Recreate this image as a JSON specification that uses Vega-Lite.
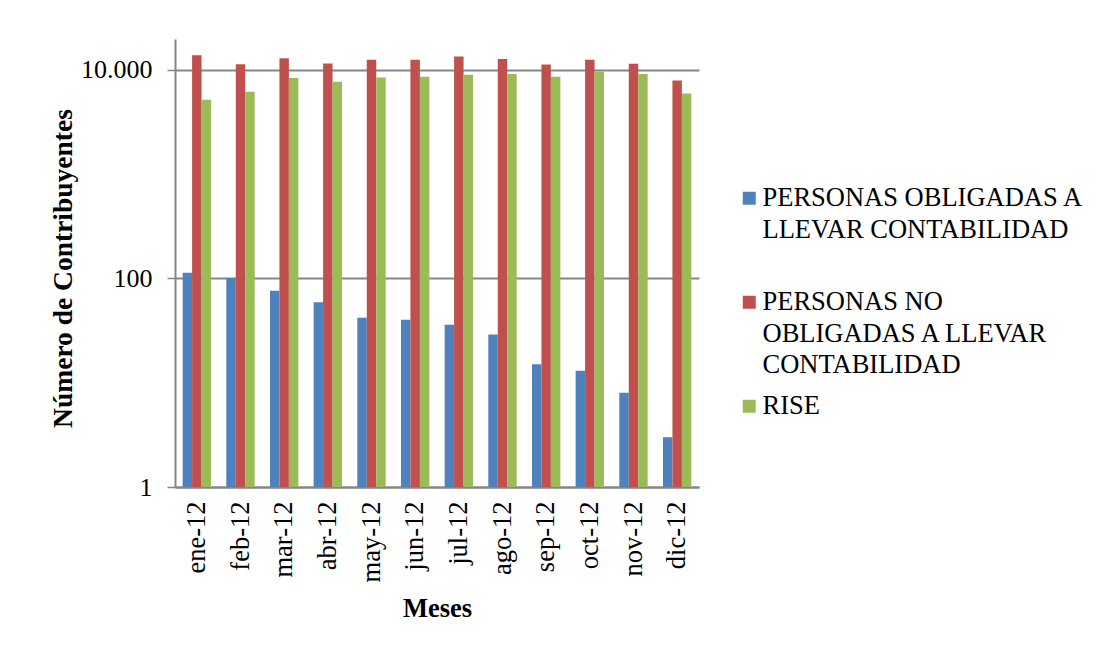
{
  "$schema": "https://vega.github.io/schema/vega-lite/v6.json",
  "width": 524,
  "height": 448,
  "autosize": {"type": "none"},
  "padding": {"left": 175, "top": 39, "right": 402, "bottom": 163},
  "background": "white",
  "config": {
    "view": {"stroke": null},
    "font": "Liberation Serif",
    "legend": {"labelFont": "Liberation Serif"}
  },
  "data": {
    "values": [
      {"mes": "ene-12", "serie": "PERSONAS OBLIGADAS A LLEVAR CONTABILIDAD", "valor": 113},
      {"mes": "feb-12", "serie": "PERSONAS OBLIGADAS A LLEVAR CONTABILIDAD", "valor": 101},
      {"mes": "mar-12", "serie": "PERSONAS OBLIGADAS A LLEVAR CONTABILIDAD", "valor": 76},
      {"mes": "abr-12", "serie": "PERSONAS OBLIGADAS A LLEVAR CONTABILIDAD", "valor": 59},
      {"mes": "may-12", "serie": "PERSONAS OBLIGADAS A LLEVAR CONTABILIDAD", "valor": 42},
      {"mes": "jun-12", "serie": "PERSONAS OBLIGADAS A LLEVAR CONTABILIDAD", "valor": 40},
      {"mes": "jul-12", "serie": "PERSONAS OBLIGADAS A LLEVAR CONTABILIDAD", "valor": 36},
      {"mes": "ago-12", "serie": "PERSONAS OBLIGADAS A LLEVAR CONTABILIDAD", "valor": 29},
      {"mes": "sep-12", "serie": "PERSONAS OBLIGADAS A LLEVAR CONTABILIDAD", "valor": 15},
      {"mes": "oct-12", "serie": "PERSONAS OBLIGADAS A LLEVAR CONTABILIDAD", "valor": 13},
      {"mes": "nov-12", "serie": "PERSONAS OBLIGADAS A LLEVAR CONTABILIDAD", "valor": 8},
      {"mes": "dic-12", "serie": "PERSONAS OBLIGADAS A LLEVAR CONTABILIDAD", "valor": 3},
      {"mes": "ene-12", "serie": "PERSONAS  NO OBLIGADAS A LLEVAR CONTABILIDAD", "valor": 13800},
      {"mes": "feb-12", "serie": "PERSONAS  NO OBLIGADAS A LLEVAR CONTABILIDAD", "valor": 11300},
      {"mes": "mar-12", "serie": "PERSONAS  NO OBLIGADAS A LLEVAR CONTABILIDAD", "valor": 12900},
      {"mes": "abr-12", "serie": "PERSONAS  NO OBLIGADAS A LLEVAR CONTABILIDAD", "valor": 11500},
      {"mes": "may-12", "serie": "PERSONAS  NO OBLIGADAS A LLEVAR CONTABILIDAD", "valor": 12470},
      {"mes": "jun-12", "serie": "PERSONAS  NO OBLIGADAS A LLEVAR CONTABILIDAD", "valor": 12470},
      {"mes": "jul-12", "serie": "PERSONAS  NO OBLIGADAS A LLEVAR CONTABILIDAD", "valor": 13400},
      {"mes": "ago-12", "serie": "PERSONAS  NO OBLIGADAS A LLEVAR CONTABILIDAD", "valor": 12640},
      {"mes": "sep-12", "serie": "PERSONAS  NO OBLIGADAS A LLEVAR CONTABILIDAD", "valor": 11240},
      {"mes": "oct-12", "serie": "PERSONAS  NO OBLIGADAS A LLEVAR CONTABILIDAD", "valor": 12470},
      {"mes": "nov-12", "serie": "PERSONAS  NO OBLIGADAS A LLEVAR CONTABILIDAD", "valor": 11420},
      {"mes": "dic-12", "serie": "PERSONAS  NO OBLIGADAS A LLEVAR CONTABILIDAD", "valor": 7890},
      {"mes": "ene-12", "serie": "RISE", "valor": 5150},
      {"mes": "feb-12", "serie": "RISE", "valor": 6150},
      {"mes": "mar-12", "serie": "RISE", "valor": 8310},
      {"mes": "abr-12", "serie": "RISE", "valor": 7670},
      {"mes": "may-12", "serie": "RISE", "valor": 8440},
      {"mes": "jun-12", "serie": "RISE", "valor": 8570},
      {"mes": "jul-12", "serie": "RISE", "valor": 8960},
      {"mes": "ago-12", "serie": "RISE", "valor": 9080},
      {"mes": "sep-12", "serie": "RISE", "valor": 8570},
      {"mes": "oct-12", "serie": "RISE", "valor": 9630},
      {"mes": "nov-12", "serie": "RISE", "valor": 9080},
      {"mes": "dic-12", "serie": "RISE", "valor": 5930}
    ]
  },
  "mark": {"type": "bar"},
  "encoding": {
    "x": {
      "field": "mes",
      "type": "nominal",
      "sort": ["ene-12", "feb-12", "mar-12", "abr-12", "may-12", "jun-12", "jul-12", "ago-12", "sep-12", "oct-12", "nov-12", "dic-12"],
      "scale": {"paddingInner": 0.35, "paddingOuter": 0.175},
      "axis": {
        "title": "Meses",
        "titleFont": "Liberation Serif",
        "titleFontSize": 26.5,
        "titleFontWeight": "bold",
        "titleColor": "black",
        "titleBaseline": "alphabetic",
        "titleX": 262,
        "titleY": 129,
        "titleAlign": "center",
        "labelAngle": 270,
        "labelFont": "Liberation Serif",
        "labelFontSize": 26.5,
        "labelColor": "black",
        "labelPadding": 14,
        "ticks": false,
        "domainColor": "#868686",
        "domainWidth": 2
      }
    },
    "xOffset": {
      "field": "serie",
      "type": "nominal",
      "scale": {"domain": ["PERSONAS OBLIGADAS A LLEVAR CONTABILIDAD", "PERSONAS  NO OBLIGADAS A LLEVAR CONTABILIDAD", "RISE"], "paddingInner": 0, "paddingOuter": 0}
    },
    "y": {
      "field": "valor",
      "type": "quantitative",
      "scale": {"type": "log", "domain": [1, 19700], "nice": false},
      "axis": {
        "title": "Número de Contribuyentes",
        "titleFont": "Liberation Serif",
        "titleFontSize": 27.5,
        "titleFontWeight": "bold",
        "titleColor": "black",
        "titleAngle": 270,
        "titleBaseline": "alphabetic",
        "titleAlign": "center",
        "titleX": -104,
        "titleY": 229,
        "values": [1, 100, 10000],
        "labelExpr": "datum.value == 10000 ? '10.000' : format(datum.value, 'd')",
        "labelFont": "Liberation Serif",
        "labelFontSize": 26,
        "labelColor": "black",
        "labelPadding": 15,
        "tickSize": 8,
        "tickColor": "#868686",
        "tickWidth": 1.5,
        "domainColor": "#868686",
        "domainWidth": 2,
        "grid": true,
        "gridColor": "#868686",
        "gridWidth": 2
      }
    },
    "y2": {"datum": 1},
    "color": {
      "field": "serie",
      "type": "nominal",
      "scale": {
        "domain": ["PERSONAS OBLIGADAS A LLEVAR CONTABILIDAD", "PERSONAS  NO OBLIGADAS A LLEVAR CONTABILIDAD", "RISE"],
        "range": ["#4F81BD", "#C0504D", "#9BBB59"]
      },
      "legend": {
        "title": null,
        "orient": "none",
        "legendX": 561,
        "legendY": 146,
        "padding": 0,
        "symbolType": "square",
        "symbolSize": 169,
        "symbolStrokeWidth": 0,
        "symbolOffset": 0,
        "labelOffset": 0,
        "labelFont": "Liberation Serif",
        "labelFontSize": 26.5,
        "labelColor": "black",
        "labelLimit": 600,
        "labelBaseline": "top",
        "rowPadding": 14,
        "labelExpr": "datum.label == 'RISE' ? 'RISE' : (indexof(datum.label, ' NO ') >= 0 ? ['PERSONAS  NO', 'OBLIGADAS A LLEVAR', 'CONTABILIDAD'] : ['PERSONAS OBLIGADAS A', 'LLEVAR CONTABILIDAD', ''])",
        "encode": {
          "labels": {"update": {"dy": {"value": -13}, "lineHeight": {"value": 31.5}, "font": {"value": "Liberation Serif"}, "fontSize": {"value": 26.5}, "fill": {"value": "black"}}}
        }
      }
    }
  }
}
